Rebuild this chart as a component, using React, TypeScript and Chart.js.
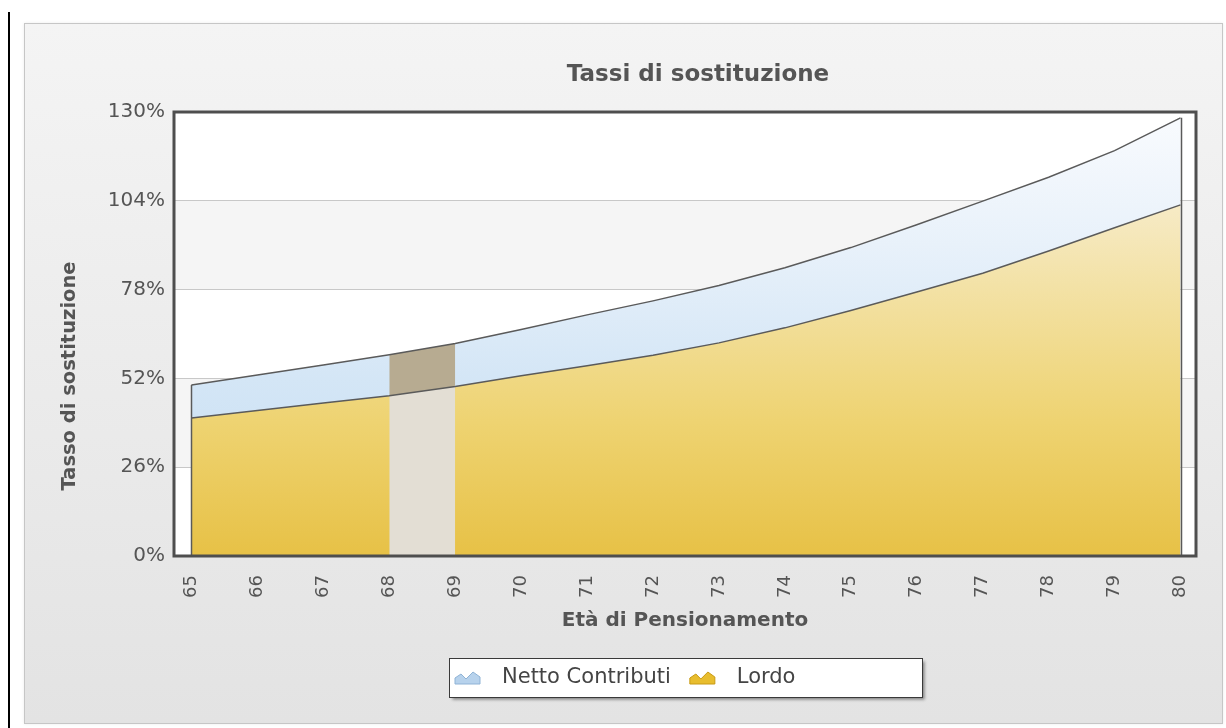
import React, { useEffect, useRef } from "react";
import { Chart, registerables } from "chart.js";

Chart.register(...registerables);

// ---- data ----
const ages = [65, 66, 67, 68, 69, 70, 71, 72, 73, 74, 75, 76, 77, 78, 79, 80];
const netto = [50.1, 53.0, 55.9, 58.9, 62.2, 66.3, 70.6, 74.7, 79.2, 84.4, 90.3, 97.0, 103.9, 110.9, 118.7, 128.3];
const lordo = [40.4, 42.6, 44.8, 46.9, 49.6, 52.8, 55.7, 58.8, 62.4, 66.8, 71.9, 77.3, 82.8, 89.3, 96.1, 102.8];
const yTicks = [0, 26, 52, 78, 104, 130];
const highlightAges = [68, 69];
const seriesLabels = ["Netto Contributi", "Lordo"];
const chartTitle = "Tassi di sostituzione";
const xTitle = "Età di Pensionamento";
const yTitle = "Tasso di sostituzione";

const FONT = "'DejaVu Sans', Verdana, sans-serif";
const TEXT = "#555555";
const LINE = "#5a5a5a";

function drawIcon(ctx: CanvasRenderingContext2D, x: number, y: number, fill: string, stroke: string) {
  ctx.save();
  ctx.beginPath();
  ctx.moveTo(x, y + 14);
  ctx.lineTo(x, y + 8);
  ctx.lineTo(x + 6, y + 4);
  ctx.lineTo(x + 11, y + 9);
  ctx.lineTo(x + 18, y + 2);
  ctx.lineTo(x + 25, y + 7);
  ctx.lineTo(x + 25, y + 14);
  ctx.closePath();
  ctx.fillStyle = fill;
  ctx.fill();
  ctx.strokeStyle = stroke;
  ctx.lineWidth = 1;
  ctx.stroke();
  ctx.restore();
}

const decorPlugin = {
  id: "decor",
  beforeDraw(chart: any) {
    const { ctx, chartArea: a, scales } = chart;
    if (!a) return;
    const y = scales.y;
    ctx.save();
    ctx.fillStyle = "#ffffff";
    ctx.fillRect(a.left, a.top, a.right - a.left, a.bottom - a.top);
    for (let i = 0; i < yTicks.length - 1; i++) {
      if (i % 2 === 1) {
        const y0 = y.getPixelForValue(yTicks[i]);
        const y1 = y.getPixelForValue(yTicks[i + 1]);
        ctx.fillStyle = "#f5f5f5";
        ctx.fillRect(a.left, y1, a.right - a.left, y0 - y1);
      }
    }
    ctx.restore();
  },
  afterDatasetsDraw(chart: any) {
    const { ctx, chartArea: a, scales } = chart;
    const x = scales.x;
    const y = scales.y;
    ctx.save();
    ctx.strokeStyle = LINE;
    ctx.lineWidth = 1.5;
    [0, ages.length - 1].forEach((i) => {
      const px = Math.round(x.getPixelForValue(ages[i])) + 0.5;
      ctx.beginPath();
      ctx.moveTo(px, y.getPixelForValue(netto[i]));
      ctx.lineTo(px, y.getPixelForValue(0));
      ctx.stroke();
    });
    ctx.strokeStyle = "#4e4e4e";
    ctx.lineWidth = 3;
    ctx.strokeRect(a.left, a.top, a.right - a.left, a.bottom - a.top);
    ctx.restore();
  },
  afterDraw(chart: any) {
    const { ctx } = chart;
    ctx.save();
    // chart title
    ctx.fillStyle = TEXT;
    ctx.font = `bold 23px ${FONT}`;
    ctx.textAlign = "center";
    ctx.textBaseline = "middle";
    ctx.fillText(chartTitle, 673, 51);
    // y title
    ctx.save();
    ctx.translate(45, 352);
    ctx.rotate(-Math.PI / 2);
    ctx.font = `bold 19.5px ${FONT}`;
    ctx.fillText(yTitle, 0, 0);
    ctx.restore();
    // legend box
    const bx = 424.5, by = 634.5, bw = 473, bh = 39;
    ctx.save();
    ctx.shadowColor = "rgba(0,0,0,0.45)";
    ctx.shadowOffsetX = 2;
    ctx.shadowOffsetY = 2;
    ctx.shadowBlur = 3;
    ctx.fillStyle = "#ffffff";
    ctx.fillRect(bx, by, bw, bh);
    ctx.restore();
    ctx.strokeStyle = "#3a3a3a";
    ctx.lineWidth = 1;
    ctx.strokeRect(bx, by, bw, bh);
    // legend items
    ctx.font = `21px ${FONT}`;
    ctx.textAlign = "left";
    ctx.textBaseline = "middle";
    const items = [
      { label: seriesLabels[0], fill: "#b7d2ec", stroke: "#8fb3d6" },
      { label: seriesLabels[1], fill: "#e8bd2e", stroke: "#c89a14" },
    ];
    let cx = 430;
    const cy = by + bh / 2;
    items.forEach((it) => {
      drawIcon(ctx, cx, cy - 8, it.fill, it.stroke);
      cx += 25 + 22;
      ctx.fillStyle = "#444444";
      ctx.fillText(it.label, cx, cy);
      cx += ctx.measureText(it.label).width + 19;
    });
    ctx.restore();
  },
};

export default function App() {
  const canvasRef = useRef<HTMLCanvasElement | null>(null);

  useEffect(() => {
    const canvas = canvasRef.current;
    if (!canvas) return;
    const toPts = (vals: number[]) => ages.map((a, i) => ({ x: a, y: vals[i] }));
    const hlIdx = highlightAges.map((a) => ages.indexOf(a));
    const hlUpper = hlIdx.map((i) => ({ x: ages[i], y: netto[i] }));
    const hlLower = hlIdx.map((i) => ({ x: ages[i], y: lordo[i] }));

    const grad = (stops: [number, string][]) => (c: any) => {
      const { chart } = c;
      const a = chart.chartArea;
      if (!a) return stops[stops.length - 1][1];
      const g = chart.ctx.createLinearGradient(0, a.top, 0, a.bottom);
      stops.forEach(([o, col]) => g.addColorStop(o, col));
      return g;
    };

    const chart = new Chart(canvas, {
      type: "line",
      data: {
        datasets: [
          {
            label: "sel-netto",
            data: hlUpper,
            fill: "+1",
            backgroundColor: "#b7ab91",
            borderWidth: 0,
            pointRadius: 0,
          },
          {
            label: "sel-lordo",
            data: hlLower,
            fill: "origin",
            backgroundColor: "#e3ded4",
            borderWidth: 0,
            pointRadius: 0,
          },
          {
            label: seriesLabels[1],
            data: toPts(lordo),
            fill: "origin",
            backgroundColor: grad([
              [0, "#fbf6e6"],
              [0.22, "#f6eac4"],
              [0.45, "#f2df9c"],
              [0.7, "#eed371"],
              [1, "#e7c146"],
            ]),
            borderColor: LINE,
            borderWidth: 1.5,
            pointRadius: 0,
            tension: 0,
          },
          {
            label: seriesLabels[0],
            data: toPts(netto),
            fill: "origin",
            backgroundColor: grad([
              [0, "#f9fbfe"],
              [0.3, "#e8f1fa"],
              [0.6, "#d4e6f6"],
              [1, "#c3dcf2"],
            ]),
            borderColor: LINE,
            borderWidth: 1.5,
            pointRadius: 0,
            tension: 0,
          },
        ],
      },
      options: {
        responsive: false,
        animation: false,
        events: [],
        layout: { padding: { top: 88, right: 26, bottom: 0, left: 0 } },
        plugins: {
          legend: { display: false },
          title: { display: false },
          tooltip: { enabled: false },
          filler: { drawTime: "beforeDatasetsDraw" },
        },
        scales: {
          x: {
            type: "linear",
            min: 64.735,
            max: 80.235,
            grid: { display: false },
            border: { display: false },
            afterBuildTicks: (s: any) => {
              s.ticks = ages.map((v) => ({ value: v }));
            },
            afterFit: (s: any) => {
              s.height = 167;
              s.paddingLeft = 0;
              s.paddingRight = 0;
            },
            ticks: {
              autoSkip: false,
              minRotation: 90,
              maxRotation: 90,
              padding: 11,
              color: TEXT,
              font: { family: FONT, size: 18 },
              callback: (v: any) => String(v),
            },
            title: {
              display: true,
              text: xTitle,
              color: TEXT,
              font: { family: FONT, size: 20, weight: "bold" },
              padding: { top: 0, bottom: 90 },
            },
          },
          y: {
            type: "linear",
            min: 0,
            max: 130,
            afterBuildTicks: (s: any) => {
              s.ticks = yTicks.map((v) => ({ value: v }));
            },
            afterFit: (s: any) => {
              s.width = 149;
              s.paddingTop = 0;
              s.paddingBottom = 0;
            },
            grid: { color: "#c8c8c8", lineWidth: 1, drawTicks: false },
            border: { display: false },
            ticks: {
              padding: 9,
              color: TEXT,
              font: { family: FONT, size: 20 },
              callback: (v: any) => v + "%",
            },
          },
        },
      },
      plugins: [decorPlugin],
    } as any);
    return () => chart.destroy();
  }, []);

  return (
    <div
      style={{
        position: "fixed",
        left: 0,
        top: 0,
        width: 1226,
        height: 728,
        overflow: "hidden",
        background: "#ffffff",
      }}
    >
      <div style={{ position: "absolute", left: 8, top: 12, width: 2, height: 716, background: "#000" }} />
      <div
        style={{
          position: "absolute",
          left: 24,
          top: 23,
          width: 1199,
          height: 701,
          boxSizing: "border-box",
          border: "1px solid #c6c6c6",
          background: "linear-gradient(#f4f4f4, #e3e3e3)",
          boxShadow: "0 0 3px rgba(0,0,0,0.08)",
        }}
      >
        <canvas ref={canvasRef} width={1197} height={699} style={{ display: "block" }} />
      </div>
    </div>
  );
}
